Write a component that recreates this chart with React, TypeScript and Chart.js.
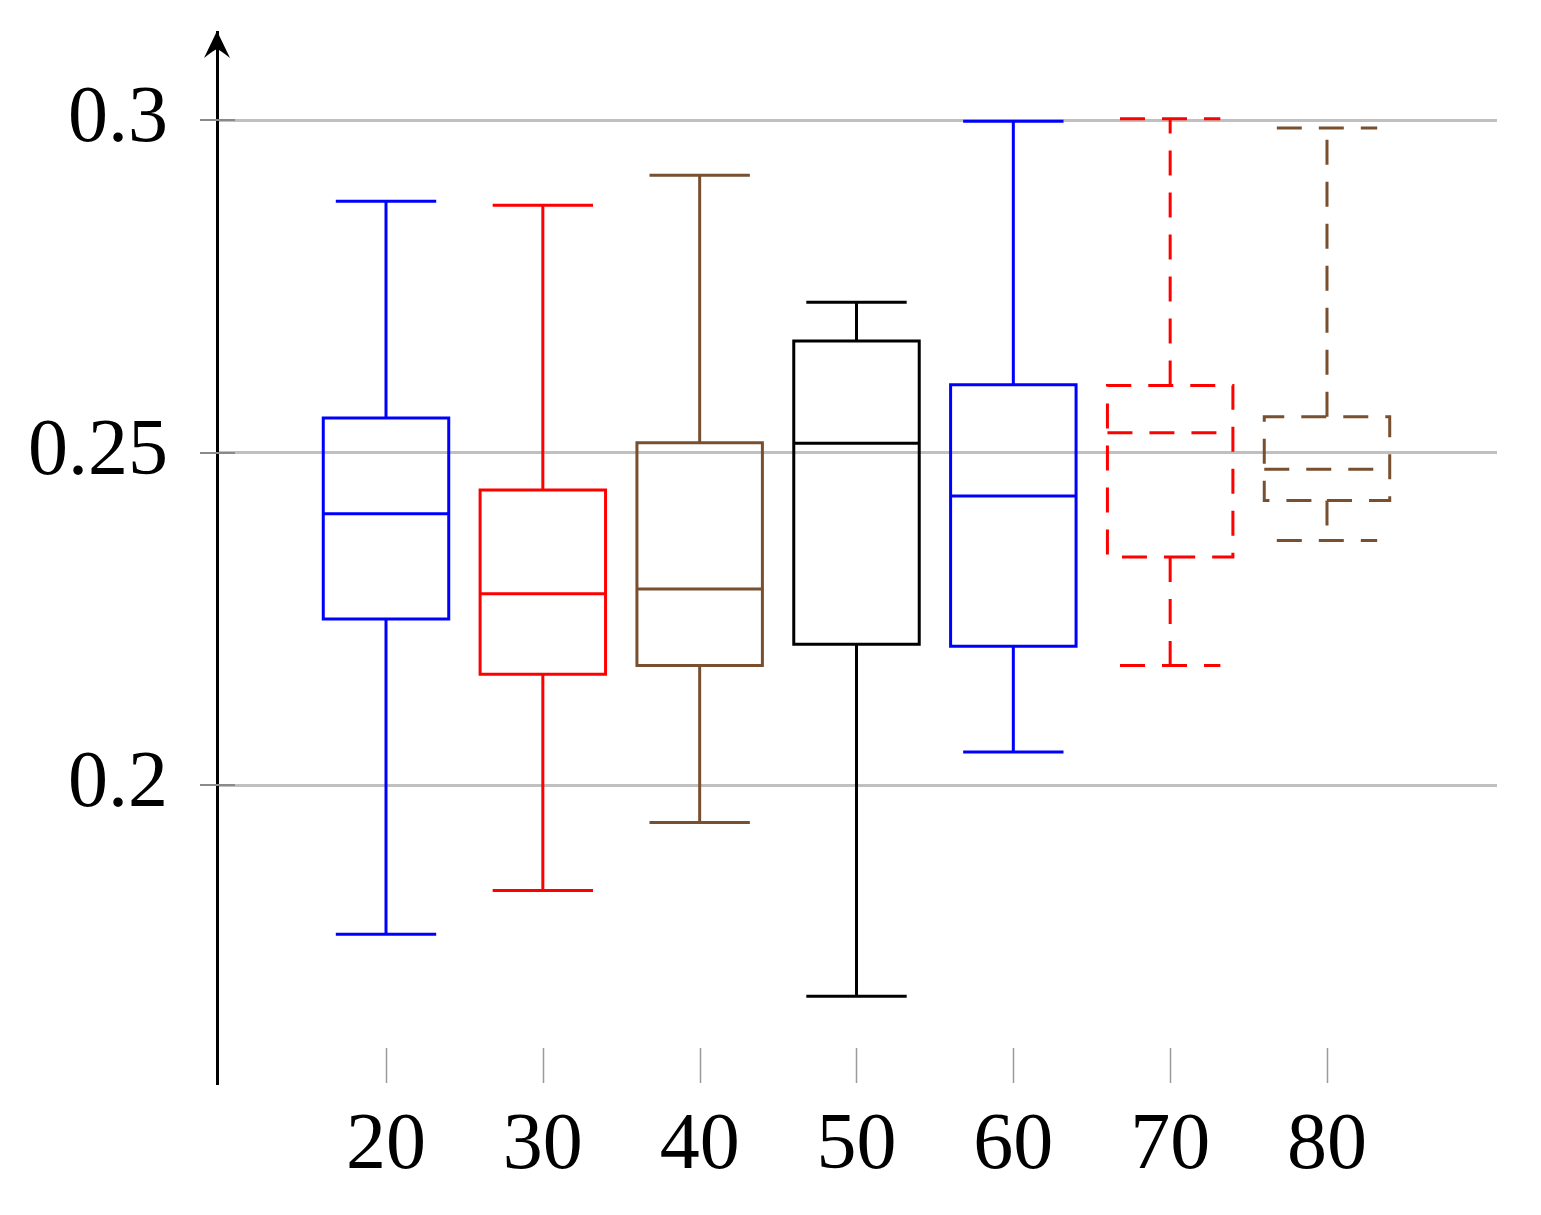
import { useEffect, useRef } from 'react';
import { Chart, registerables } from 'chart.js';

Chart.register(...registerables);

// ---- data ----
const categories = [20, 30, 40, 50, 60, 70, 80];
const lowerWhisker = [0.1776, 0.1842, 0.1944, 0.1683, 0.205, 0.218, 0.2368];
const lowerQuartile = [0.225, 0.2167, 0.218, 0.2212, 0.2209, 0.2343, 0.2428];
const medianValues = [0.2408, 0.2288, 0.2295, 0.2514, 0.2435, 0.253, 0.2475];
const upperQuartile = [0.2552, 0.2444, 0.2515, 0.2668, 0.2602, 0.2601, 0.2554];
const upperWhisker = [0.2878, 0.2872, 0.2917, 0.2726, 0.2998, 0.3002, 0.2988];
const yTickValues = [0.2, 0.25, 0.3];
const xTickValues = categories;

// ---- styles ----
const boxColors = ['#0000ff', '#ff0000', '#785030', '#000000', '#0000ff', '#ff0000', '#785030'];
const boxDashed = [false, false, false, false, false, true, true];
const BOX_HALF = 4;
const CAP_HALF = 3.2;
const FONT = "'Liberation Serif', 'Times New Roman', serif";

function boxPoints(i: number) {
  const x = categories[i];
  const q1 = lowerQuartile[i];
  const q3 = upperQuartile[i];
  const med = medianValues[i];
  const lo = lowerWhisker[i];
  const hi = upperWhisker[i];
  const gap = { x, y: null as any };
  return [
    { x, y: q1 }, { x: x + BOX_HALF, y: q1 }, { x: x + BOX_HALF, y: q3 },
    { x: x - BOX_HALF, y: q3 }, { x: x - BOX_HALF, y: q1 }, { x, y: q1 }, gap,
    { x: x - BOX_HALF, y: med }, { x: x + BOX_HALF, y: med }, gap,
    { x, y: q3 }, { x, y: hi }, gap,
    { x: x - CAP_HALF, y: hi }, { x: x + CAP_HALF, y: hi }, gap,
    { x, y: q1 }, { x, y: lo }, gap,
    { x: x - CAP_HALF, y: lo }, { x: x + CAP_HALF, y: lo },
  ];
}

const axisExtras = {
  id: 'axisExtras',
  afterDraw(chart: any) {
    const ctx = chart.ctx;
    const xs = chart.scales.x;
    const ys = chart.scales.y;
    const area = chart.chartArea;
    const axisX = area.left;
    ctx.save();
    // y tick marks
    ctx.strokeStyle = '#8a8a8a';
    ctx.lineWidth = 2;
    for (const v of yTickValues) {
      const py = Math.round(ys.getPixelForValue(v));
      ctx.beginPath();
      ctx.moveTo(axisX - 17, py);
      ctx.lineTo(axisX + 18, py);
      ctx.stroke();
    }
    // x tick marks (inside)
    ctx.strokeStyle = '#9a9a9a';
    ctx.lineWidth = 1.5;
    for (const v of xTickValues) {
      const px = Math.round(xs.getPixelForValue(v)) + 0.5;
      ctx.beginPath();
      ctx.moveTo(px, area.bottom);
      ctx.lineTo(px, area.bottom - 35);
      ctx.stroke();
    }
    // arrow head on y axis
    ctx.fillStyle = '#000';
    const tipY = area.top;
    ctx.beginPath();
    ctx.moveTo(axisX, tipY - 1);
    ctx.lineTo(axisX - 13, tipY + 26);
    ctx.quadraticCurveTo(axisX - 3, tipY + 18, axisX, tipY + 17);
    ctx.quadraticCurveTo(axisX + 3, tipY + 18, axisX + 13, tipY + 26);
    ctx.closePath();
    ctx.fill();
    ctx.restore();
  },
};

export default function App() {
  const ref = useRef<HTMLCanvasElement | null>(null);
  useEffect(() => {
    if (!ref.current) return;
    const datasets = categories.map((c, i) => ({
      label: String(c),
      data: boxPoints(i),
      borderColor: boxColors[i],
      backgroundColor: boxColors[i],
      borderWidth: 3,
      borderDash: boxDashed[i] ? [25, 17] : [],
      borderCapStyle: 'butt' as const,
      borderJoinStyle: 'miter' as const,
      pointRadius: 0,
      pointHoverRadius: 0,
      spanGaps: false,
      tension: 0,
      fill: false,
    }));
    const chart = new Chart(ref.current, {
      type: 'line',
      data: { datasets },
      options: {
        animation: false,
        responsive: false,
        maintainAspectRatio: false,
        devicePixelRatio: 1,
        layout: { padding: { top: 32, right: 44, left: 0, bottom: 0 } },
        plugins: { legend: { display: false }, tooltip: { enabled: false } },
        scales: {
          x: {
            type: 'linear',
            min: 9.224,
            max: 90.84,
            afterBuildTicks: (s: any) => { s.ticks = xTickValues.map((v) => ({ value: v })); },
            afterFit: (s: any) => {
              s.height = 132;
              s.paddingLeft = 0; s.paddingRight = 0; s.paddingTop = 0; s.paddingBottom = 0;
            },
            grid: { display: false },
            border: { display: false },
            ticks: {
              color: '#000',
              padding: 8,
              maxRotation: 0,
              autoSkip: false,
              font: { family: FONT, size: 80 },
              callback: (v: any) => String(v),
            },
          },
          y: {
            type: 'linear',
            min: 0.15525,
            max: 0.31323,
            afterBuildTicks: (s: any) => { s.ticks = yTickValues.map((v) => ({ value: v })); },
            afterFit: (s: any) => {
              s.width = 217;
              s.paddingLeft = 0; s.paddingRight = 0; s.paddingTop = 0; s.paddingBottom = 0;
            },
            grid: { color: '#c0c0c0', lineWidth: 3, drawTicks: false },
            border: { display: true, color: '#000', width: 3 },
            ticks: {
              color: '#000',
              padding: 49,
              autoSkip: false,
              font: { family: FONT, size: 80 },
              callback: (v: any) => String(v),
            },
          },
        },
      },
      plugins: [axisExtras],
    });
    return () => chart.destroy();
  }, []);
  return (
    <div style={{ position: 'absolute', left: 0, top: 0, width: 1541, height: 1215 }}>
      <canvas ref={ref} width={1541} height={1215} style={{ width: 1541, height: 1215, display: 'block' }} />
    </div>
  );
}
